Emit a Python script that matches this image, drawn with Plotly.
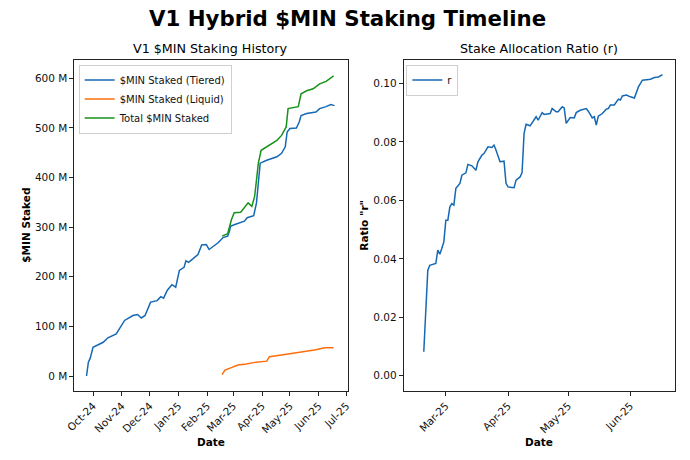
import plotly.graph_objects as go

# ---------------- data ----------------
tiered_dates = ["2024-09-24", "2024-09-26", "2024-09-28", "2024-10-01", "2024-10-12", "2024-10-17",
                "2024-10-26", "2024-11-01", "2024-11-04", "2024-11-13", "2024-11-18", "2024-11-22",
                "2024-11-26", "2024-12-02", "2024-12-09", "2024-12-13", "2024-12-16", "2024-12-20",
                "2024-12-25", "2024-12-29", "2025-01-02", "2025-01-07", "2025-01-09", "2025-01-12",
                "2025-01-17", "2025-01-22", "2025-01-26", "2025-01-31", "2025-02-03", "2025-02-07",
                "2025-02-13", "2025-02-18", "2025-02-23", "2025-02-25", "2025-02-26", "2025-03-02",
                "2025-03-13", "2025-03-16", "2025-03-20", "2025-03-23", "2025-03-26", "2025-03-28",
                "2025-03-30", "2025-04-06", "2025-04-17", "2025-04-22", "2025-04-26", "2025-04-28",
                "2025-05-01", "2025-05-08", "2025-05-11", "2025-05-13", "2025-05-19", "2025-05-29",
                "2025-06-02", "2025-06-09", "2025-06-14", "2025-06-18"]
tiered_vals = [0, 28, 36, 58, 68, 77,
               85, 102, 112, 122, 124, 117,
               122, 149, 152, 160, 157, 173,
               184, 179, 213, 219, 232, 229,
               237, 245, 264, 265, 255, 260,
               269, 279, 282, 292, 302, 305,
               312, 319, 322, 323, 349, 395,
               429, 435, 442, 449, 462, 492,
               499, 500, 512, 525, 529, 532,
               539, 543, 547, 545]

liquid_dates = ["2025-02-17", "2025-02-20", "2025-02-27", "2025-03-06", "2025-03-15", "2025-03-23",
                "2025-04-06", "2025-04-09", "2025-04-20", "2025-05-05", "2025-05-15", "2025-05-29",
                "2025-06-07", "2025-06-17"]
liquid_vals = [3, 12, 17, 22, 24, 27,
               30, 39, 42, 47, 49, 53,
               57, 57]

total_dates = ["2025-02-17", "2025-02-23", "2025-02-27", "2025-03-02", "2025-03-09", "2025-03-14",
               "2025-03-17", "2025-03-21", "2025-03-24", "2025-03-26", "2025-03-28", "2025-03-31",
               "2025-04-06", "2025-04-11", "2025-04-17", "2025-04-22", "2025-04-27", "2025-04-29",
               "2025-05-05", "2025-05-10", "2025-05-13", "2025-05-19", "2025-05-26", "2025-06-02",
               "2025-06-09", "2025-06-14", "2025-06-17"]
total_vals = [282, 287, 315, 329, 330, 342,
              349, 342, 362, 395, 429, 455,
              462, 469, 475, 485, 502, 539,
              542, 543, 569, 575, 579, 589,
              594, 601, 605]

r_dates = ["2025-02-18", "2025-02-19", "2025-02-20", "2025-02-21", "2025-02-23", "2025-02-24",
           "2025-02-25", "2025-02-26", "2025-02-27", "2025-02-28", "2025-03-01", "2025-03-02",
           "2025-03-03", "2025-03-04", "2025-03-05", "2025-03-06", "2025-03-08", "2025-03-09",
           "2025-03-11", "2025-03-12", "2025-03-14", "2025-03-16", "2025-03-17", "2025-03-19",
           "2025-03-20", "2025-03-22", "2025-03-24", "2025-03-25", "2025-03-26", "2025-03-28",
           "2025-03-30", "2025-03-31", "2025-04-01", "2025-04-04", "2025-04-05", "2025-04-07",
           "2025-04-08", "2025-04-09", "2025-04-10", "2025-04-12", "2025-04-15", "2025-04-16",
           "2025-04-18", "2025-04-19", "2025-04-22", "2025-04-23", "2025-04-25", "2025-04-26",
           "2025-04-28", "2025-04-29", "2025-04-30", "2025-05-02", "2025-05-04", "2025-05-05",
           "2025-05-07", "2025-05-10", "2025-05-11", "2025-05-13", "2025-05-14", "2025-05-15",
           "2025-05-16", "2025-05-18", "2025-05-20", "2025-05-21", "2025-05-22", "2025-05-24",
           "2025-05-26", "2025-05-27", "2025-05-28", "2025-05-30", "2025-06-01", "2025-06-03",
           "2025-06-05", "2025-06-06", "2025-06-07", "2025-06-11", "2025-06-13", "2025-06-15",
           "2025-06-17"]
r_vals = [0.0082, 0.0202, 0.0361, 0.0378, 0.0381, 0.0384,
          0.0430, 0.0416, 0.0436, 0.0458, 0.0532, 0.0532,
          0.0578, 0.0589, 0.0584, 0.0641, 0.0658, 0.0686,
          0.0694, 0.0723, 0.0718, 0.0703, 0.0732, 0.0755,
          0.0760, 0.0783, 0.0781, 0.0789, 0.0772, 0.0732,
          0.0734, 0.0658, 0.0646, 0.0643, 0.0669, 0.0680,
          0.0695, 0.0829, 0.0860, 0.0855, 0.0886, 0.0874,
          0.0900, 0.0894, 0.0897, 0.0914, 0.0903, 0.0903,
          0.0920, 0.0916, 0.0863, 0.0883, 0.0882, 0.0900,
          0.0908, 0.0914, 0.0905, 0.0882, 0.0886, 0.0857,
          0.0888, 0.0897, 0.0912, 0.0914, 0.0926, 0.0926,
          0.0946, 0.0943, 0.0957, 0.0960, 0.0954, 0.0950,
          0.0988, 0.1000, 0.1011, 0.1014, 0.1020, 0.1022,
          0.1030]

# ---------------- styling ----------------
W, H = 690, 460
FONT = "DejaVu Sans"
BLUE, ORANGE, GREEN = "#1568b4", "#ff6e0c", "#17921a"

def px_x(p):
    return p / W

def px_y(p):
    return 1 - p / H

fig = go.Figure()
fig.add_trace(go.Scatter(x=tiered_dates, y=tiered_vals, mode="lines", name="$MIN Staked (Tiered)",
                         line=dict(color=BLUE, width=1.5), xaxis="x", yaxis="y", legend="legend"))
fig.add_trace(go.Scatter(x=liquid_dates, y=liquid_vals, mode="lines", name="$MIN Staked (Liquid)",
                         line=dict(color=ORANGE, width=1.5), xaxis="x", yaxis="y", legend="legend"))
fig.add_trace(go.Scatter(x=total_dates, y=total_vals, mode="lines", name="Total $MIN Staked",
                         line=dict(color=GREEN, width=1.5), xaxis="x", yaxis="y", legend="legend"))
fig.add_trace(go.Scatter(x=r_dates, y=r_vals, mode="lines", name="r",
                         line=dict(color=BLUE, width=1.5), xaxis="x2", yaxis="y2", legend="legend2"))

ydom = [px_y(390.7), px_y(60)]
axis_common = dict(showline=True, linecolor="#222", linewidth=1, mirror=True, showgrid=False,
                   zeroline=False, ticks="outside", ticklen=4, tickcolor="#222", tickwidth=1,
                   tickfont=dict(family=FONT, size=10.5, color="#111"))

fig.update_layout(
    width=W, height=H, margin=dict(l=0, r=0, t=0, b=0),
    paper_bgcolor="white", plot_bgcolor="white",
    font=dict(family=FONT, color="#111"),
    xaxis=dict(domain=[px_x(66.7), px_x(345)], anchor="y", type="date",
               range=["2024-09-11", "2025-07-02"], tick0="2024-10-01", dtick="M1",
               tickformat="%b-%y", tickangle=-45, **axis_common),
    yaxis=dict(domain=ydom, anchor="x", range=[-29.6, 637], tick0=0, dtick=100,
               ticksuffix=" M", **axis_common),
    xaxis2=dict(domain=[px_x(402.3), px_x(678.3)], anchor="y2", type="date",
                range=["2025-02-08", "2025-06-23"], tick0="2025-03-01", dtick="M1",
                tickformat="%b-%y", tickangle=-45, **axis_common),
    yaxis2=dict(domain=ydom, anchor="x2", range=[-0.0051, 0.108], tick0=0, dtick=0.02,
                tickformat=".2f", **axis_common),
    legend=dict(x=px_x(71), y=px_y(64.5), xanchor="left", yanchor="top",
                bgcolor="rgba(255,255,255,0.85)", bordercolor="#cfcfcf", borderwidth=1,
                font=dict(family=FONT, size=10, color="#111"), tracegroupgap=0,
                itemwidth=30),
    legend2=dict(x=px_x(405), y=px_y(64.5), xanchor="left", yanchor="top",
                 bgcolor="rgba(255,255,255,0.85)", bordercolor="#cfcfcf", borderwidth=1,
                 font=dict(family=FONT, size=10, color="#111"), itemwidth=30),
    showlegend=True,
)

annotations = [
    dict(text="<b>V1 Hybrid $MIN Staking Timeline</b>", x=0.5, y=px_y(19), size=21.3),
    dict(text="V1 $MIN Staking History", x=px_x(205.8), y=px_y(49), size=12.7),
    dict(text="Stake Allocation Ratio (r)", x=px_x(540.3), y=px_y(49), size=12.7),
    dict(text="<b>Date</b>", x=px_x(205.8), y=px_y(442), size=10.5),
    dict(text="<b>Date</b>", x=px_x(540.3), y=px_y(442), size=10.5),
    dict(text="<b>$MIN Staked</b>", x=px_x(16.5), y=px_y(225.5), size=10.5, angle=-90),
    dict(text="<b>Ratio \"r\"</b>", x=px_x(361), y=px_y(225.5), size=10.5, angle=-90),
]
for a in annotations:
    fig.add_annotation(text=a["text"], x=a["x"], y=a["y"], xref="paper", yref="paper",
                       xanchor="center", yanchor="middle", showarrow=False,
                       textangle=a.get("angle", 0),
                       font=dict(family=FONT, size=a["size"], color="#000"))

fig.write_html("out.html")
